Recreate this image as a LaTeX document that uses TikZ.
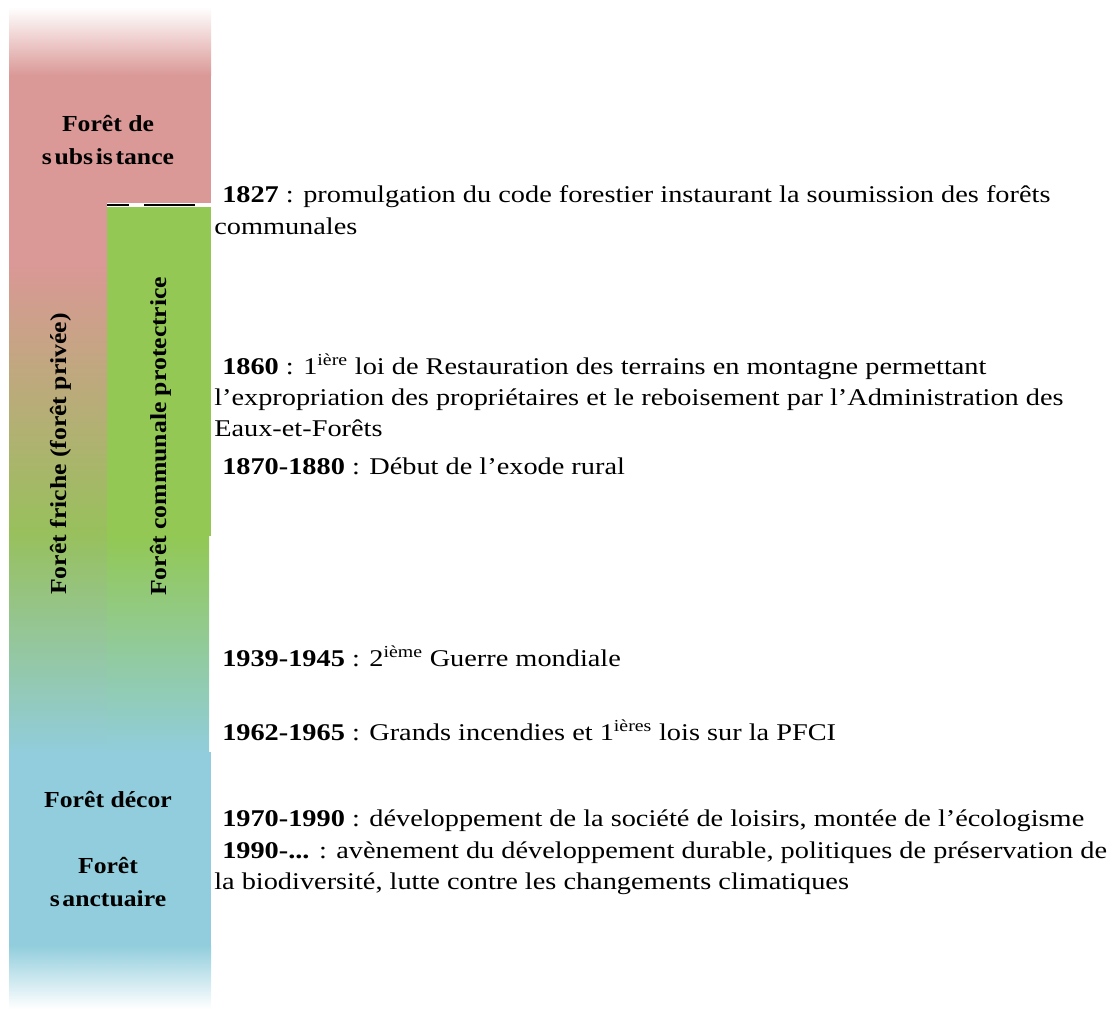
\documentclass[tikz,border=0pt]{standalone}
\usepackage{fontspec}
\setmainfont{Liberation Serif}[FakeStretch=1.18]
\newfontfamily\labfont{Liberation Serif}[FakeStretch=1.12]
\begin{document}
\begin{tikzpicture}[x=0.75pt,y=-0.75pt,
  txt/.style={anchor=base west,inner sep=0pt,font=\fontsize{18}{24}\selectfont},
  lab/.style={anchor=base,inner sep=0pt,font=\labfont\fontsize{17.2}{24}\selectfont\bfseries},
  rlab/.style={anchor=base west,inner sep=0pt,rotate=90,font=\labfont\fontsize{17.2}{24}\selectfont\bfseries}]
\definecolor{pinkc}{RGB}{218,152,150}
\definecolor{greenl}{RGB}{152,192,92}
\definecolor{greenc}{RGB}{146,200,83}
\definecolor{bluec}{RGB}{145,205,220}
\useasboundingbox (0,0) rectangle (1120,1009);
% left column
\shade[top color=white,bottom color=pinkc] (9,7) rectangle (211,76);
\fill[pinkc] (9,75) rectangle (211,266);
\shade[top color=pinkc,bottom color=greenl] (9,265) rectangle (107,533);
\shade[top color=greenl,bottom color=bluec] (9,532) rectangle (107,753);
\fill[pinkc] (107,200) rectangle (211,266);
% inner column
\fill[white] (107,203.5) rectangle (211,207);
\draw[line width=1.9pt,black,dash pattern=on 16.5pt off 11.25pt on 38.25pt off 12pt] (107,205.2) -- (211,205.2);
\fill[greenc] (107,206.8) rectangle (211,536);
\shade[top color=greenc,bottom color=bluec] (107,535) rectangle (209,753);
\fill[bluec] (9,752) rectangle (211,946);
\shade[top color=bluec,bottom color=white] (9,945) rectangle (211,1009);
% labels
\node[lab] (sub1) at (108,132) {Forêt de};
\node[lab] (sub2) at (108,165) {s\kern2pt ubs\kern2pt is\kern2pt tance};
\node[rlab] (friche) at (66,595) {Forêt friche (forêt privée)};
\node[rlab] (comm) at (166,596) {Forêt communale protectrice};
\node[lab] (decor) at (108,807) {Forêt décor};
\node[lab] (sanc1) at (108,873) {Forêt};
\node[lab] (sanc2) at (108,906) {s\kern2pt anctuaire};
% timeline text
\node[txt] (t1) at (222,203) {\textbf{1827} : promulgation du code forestier instaurant la soumission des forêts};
\node[txt] (t1b) at (214,235) {communales};
\node[txt] (t2) at (222,374) {\textbf{1860} : 1\textsuperscript{ière} loi de Restauration des terrains en montagne permettant};
\node[txt] (t2b) at (214,405) {l’expropriation des propriétaires et le reboisement par l’Administration des};
\node[txt] (t2c) at (214,436) {Eaux-et-Forêts};
\node[txt] (t3) at (222,474) {\textbf{1870-1880} : Début de l’exode rural};
\node[txt] (t4) at (222,666) {\textbf{1939-1945} : 2\textsuperscript{ième} Guerre mondiale};
\node[txt] (t5) at (222,740) {\textbf{1962-1965} : Grands incendies et 1\textsuperscript{ières} lois sur la PFCI};
\node[txt] (t6) at (222,826) {\textbf{1970-1990} : développement de la société de loisirs, montée de l’écologisme};
\node[txt] (t7) at (222,858) {\textbf{1990-...} : avènement du développement durable, politiques de préservation de};
\node[txt] (t7b) at (214,889) {la biodiversité, lutte contre les changements climatiques};
\end{tikzpicture}
\end{document}
